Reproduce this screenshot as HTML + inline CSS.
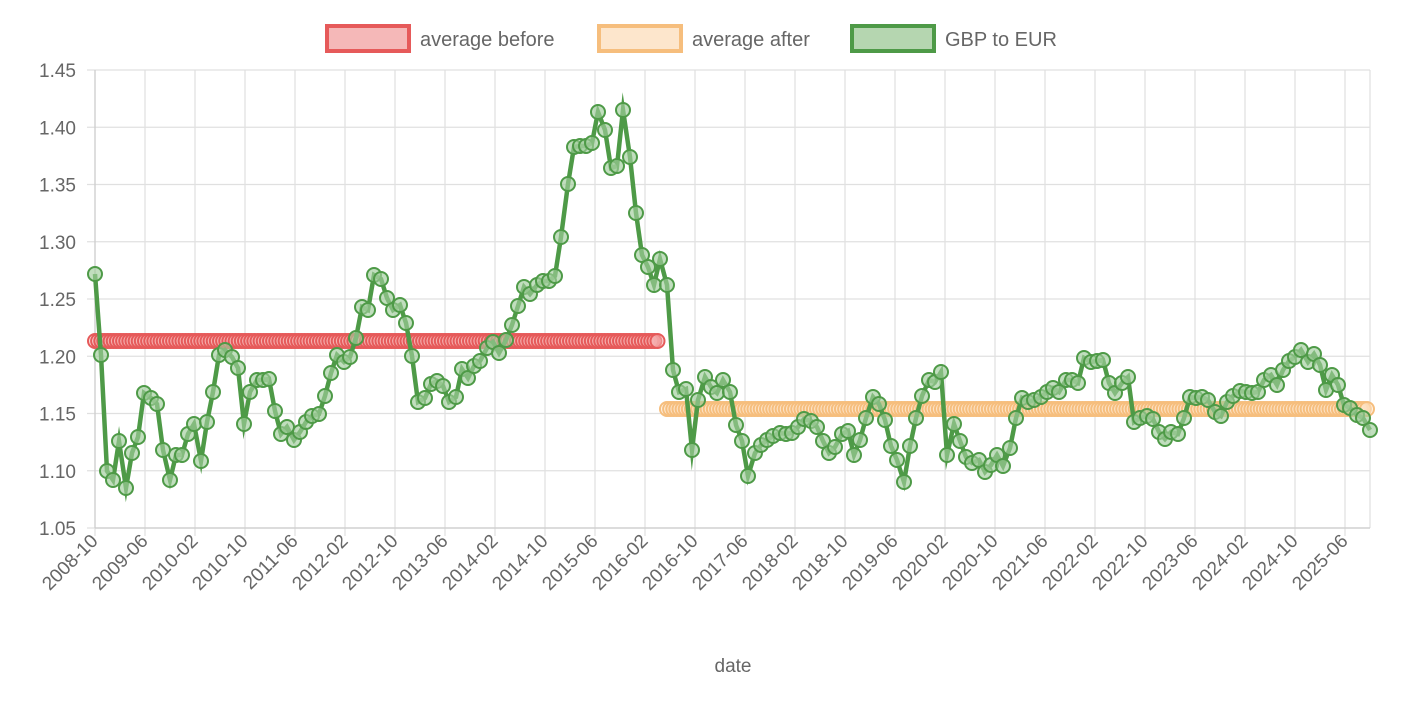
<!DOCTYPE html><html><head><meta charset="utf-8"><style>body{margin:0;background:#fff}svg{display:block;font-family:"Liberation Sans",sans-serif}</style></head><body>
<svg id="s" width="1414" height="702" xmlns="http://www.w3.org/2000/svg"></svg>
<script>
const s=document.getElementById('s');let h='';
const L=95,R=1370,T=70,B=528;
h+=`<rect x="327" y="26" width="82" height="25" fill="#f5b8b8" stroke="#e65a5a" stroke-width="4"/><text x="420" y="46" font-size="20" fill="#666">average before</text>`;
h+=`<rect x="599" y="26" width="82" height="25" fill="#fde6cc" stroke="#f6be7d" stroke-width="4"/><text x="692" y="46" font-size="20" fill="#666">average after</text>`;
h+=`<rect x="852" y="26" width="82" height="25" fill="#b5d6b0" stroke="#4e9a47" stroke-width="4"/><text x="945" y="46" font-size="20" fill="#666">GBP to EUR</text>`;
const yl=['1.45','1.40','1.35','1.30','1.25','1.20','1.15','1.10','1.05'];
yl.forEach((t,i)=>{const y=T+i*57.25;h+=`<line x1="${L-8}" x2="${R}" y1="${y}" y2="${y}" stroke="#e0e0e0" stroke-width="1.2"/><text x="76" y="${y+7}" font-size="19" fill="#666" text-anchor="end">${t}</text>`;});
const xl=[];let yr=2008,m=10;for(let i=0;i<26;i++){xl.push(yr+'-'+(m<10?'0':'')+m);m+=8;if(m>12){m-=12;yr++;}}
xl.forEach((t,i)=>{const x=L+i*50;h+=`<line x1="${x}" x2="${x}" y1="${T}" y2="${B+8}" stroke="#e0e0e0" stroke-width="1.2"/><text transform="translate(${x+4},${B+14}) rotate(-45)" font-size="19" fill="#666" text-anchor="end">${t}</text>`;});
h+=`<line x1="${R}" x2="${R}" y1="${T}" y2="${B}" stroke="#e0e0e0" stroke-width="1.2"/>`;
h+=`<line x1="${L}" x2="${L}" y1="${T}" y2="${B}" stroke="#ccc" stroke-width="1.2"/><line x1="${L}" x2="${R}" y1="${B}" y2="${B}" stroke="#ccc" stroke-width="1.2"/>`;
h+=`<text x="733" y="672" font-size="19" fill="#666" text-anchor="middle">date</text>`;
function band(x1,x2,y,fill,st){let o=`<rect x="${x1}" y="${y-7}" width="${x2-x1}" height="14" fill="${st}"/>`;for(let x=x1;x<=x2+0.1;x+=3.125)o+=`<circle cx="${x}" cy="${y}" r="7" fill="${fill}" stroke="${st}" stroke-width="2"/>`;return o;}
h+=band(95,660,341,'rgba(245,184,184,0.5)','#e65a5a');
h+=band(667,1370,409,'rgba(253,230,204,0.5)','#f6be7d');
const P=[95,274,101,355,107,471,113,480,119,441,126,488,132,453,138,437,144,393,151,398,157,404,163,450,170,480,176,455,182,455,188,434,194,424,201,461,207,422,213,392,219,355,225,350,232,357,238,368,244,424,250,392,257,380,263,380,269,379,275,411,281,434,287,427,294,440,300,432,306,422,312,416,319,414,325,396,331,373,337,355,344,362,350,357,356,338,362,307,368,310,374,275,381,279,387,298,393,310,400,305,406,323,412,356,418,402,425,398,431,384,437,381,443,386,449,402,456,397,462,369,468,378,474,366,480,361,487,348,493,342,499,353,506,340,512,325,518,306,524,287,530,294,537,285,543,281,549,281,555,276,561,237,568,184,574,147,580,146,586,146,592,143,598,112,605,130,611,168,617,166,623,110,630,157,636,213,642,255,648,267,654,285,660,259,667,285,673,370,679,392,686,389,692,450,698,400,705,377,711,387,717,393,723,380,730,392,736,425,742,441,748,476,755,453,761,445,767,440,773,436,780,433,786,434,792,433,798,427,804,419,811,421,817,427,823,441,829,453,835,447,842,434,848,431,854,455,860,440,866,418,873,397,879,404,885,420,891,446,897,460,904,482,910,446,916,418,922,396,929,380,935,382,941,372,947,455,954,424,960,441,966,457,972,463,979,460,985,472,991,465,997,455,1003,466,1010,448,1016,418,1022,398,1028,402,1034,400,1041,397,1047,392,1053,388,1059,392,1066,380,1072,380,1078,383,1084,358,1091,362,1097,361,1103,360,1109,383,1115,393,1122,383,1128,377,1134,422,1140,418,1147,416,1153,419,1159,432,1165,439,1171,432,1178,434,1184,418,1190,397,1196,398,1202,397,1208,400,1215,412,1221,416,1227,402,1233,396,1240,391,1246,392,1252,393,1258,392,1264,380,1271,375,1277,385,1283,370,1289,361,1295,357,1301,350,1308,362,1314,354,1320,365,1326,390,1332,375,1338,385,1344,405,1350,408,1357,415,1363,418,1370,430];
let pts=[];for(let i=0;i<P.length;i+=2)pts.push(P[i]+','+P[i+1]);
h+=`<polyline points="${pts.join(' ')}" fill="none" stroke="#4e9a47" stroke-width="4.5" stroke-linejoin="miter" stroke-miterlimit="10"/>`;
for(let i=0;i<P.length;i+=2)h+=`<circle cx="${P[i]}" cy="${P[i+1]}" r="7" fill="rgba(160,205,155,0.65)" stroke="#4e9a47" stroke-width="2"/>`;
s.innerHTML=h;
</script></body></html>
